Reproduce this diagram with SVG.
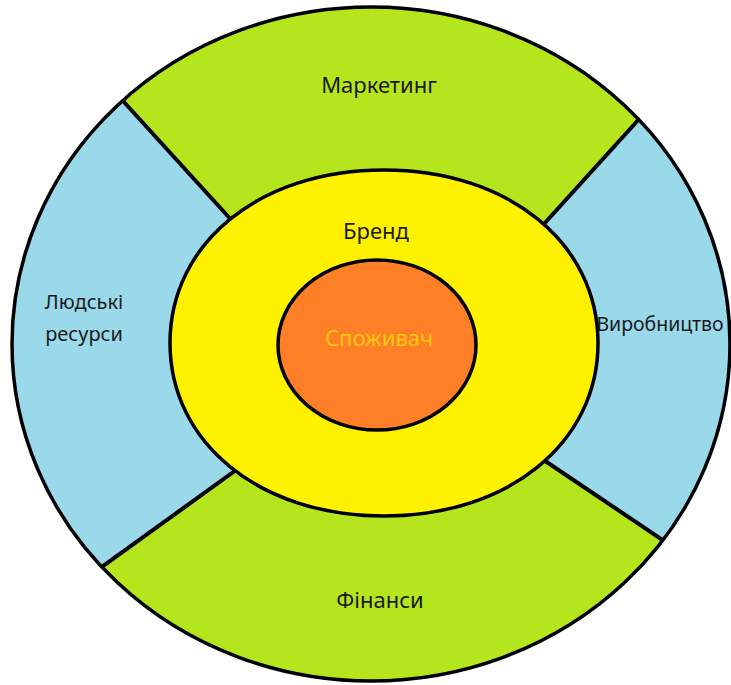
<svg xmlns="http://www.w3.org/2000/svg" width="731" height="685" viewBox="0 0 731 685">
  <defs>
    <clipPath id="outerClip">
      <ellipse cx="371" cy="344" rx="359" ry="337"/>
    </clipPath>
    <style>
      .green { fill: #b5e61d; }
      .blue { fill: #99d9ea; }
      .edge { fill: none; stroke: #000; stroke-width: 3.5; }
      .divider { stroke: #000; stroke-width: 4; stroke-linecap: butt; }
      .label { font-family: "Noto Sans", "Open Sans", "Liberation Sans", sans-serif; font-size: 22px; fill: #1a1a1a; text-anchor: middle; }
      .side { font-size: 20px; }
    </style>
  </defs>
  <rect width="731" height="685" fill="#ffffff"/>

  <g id="marketing">
    <polygon class="green" clip-path="url(#outerClip)" points="255,246 73,46 73,-20 689,-20 689,64 514,257"/>
    <text class="label" x="379" y="93">Маркетинг</text>
  </g>
  <g id="finance">
    <polygon class="green" clip-path="url(#outerClip)" points="261,452 45,608 45,700 728,700 728,584 508,436"/>
    <text class="label" x="380" y="608">Фінанси</text>
  </g>
  <g id="hr">
    <polygon class="blue" clip-path="url(#outerClip)" points="255,246 73,46 -20,46 -20,608 45,608 261,452"/>
    <text class="label side" x="84" y="309">Людські</text>
    <text class="label side" x="84" y="341">ресурси</text>
  </g>
  <g id="production">
    <polygon class="blue" clip-path="url(#outerClip)" points="514,257 689,64 750,64 750,584 728,584 508,436"/>
    <text class="label side" x="660" y="331" style="font-size:19.5px">Виробництво</text>
  </g>

  <g id="connectors" clip-path="url(#outerClip)">
    <line class="divider" x1="73" y1="46" x2="255" y2="246"/>
    <line class="divider" x1="689" y1="64" x2="514" y2="257"/>
    <line class="divider" x1="45" y1="608" x2="261" y2="452"/>
    <line class="divider" x1="728" y1="584" x2="508" y2="436"/>
  </g>

  <ellipse id="outer-ring" class="edge" cx="371" cy="344" rx="359" ry="337"/>

  <g id="brand">
    <path d="M598,343 C598,443.3 508,516 384,516 C260,516 170,443.3 170,343 C170,242.7 260,170 384,170 C508,170 598,242.7 598,343 Z" fill="#fff200" stroke="#000" stroke-width="3.5"/>
    <text class="label" x="376" y="239">Бренд</text>
  </g>

  <g id="consumer">
    <ellipse cx="377" cy="345" rx="99" ry="85" fill="#ff7f27" stroke="#000" stroke-width="3.5"/>
    <text class="label" x="379" y="346" style="fill:#ffc90e">Споживач</text>
  </g>
</svg>
